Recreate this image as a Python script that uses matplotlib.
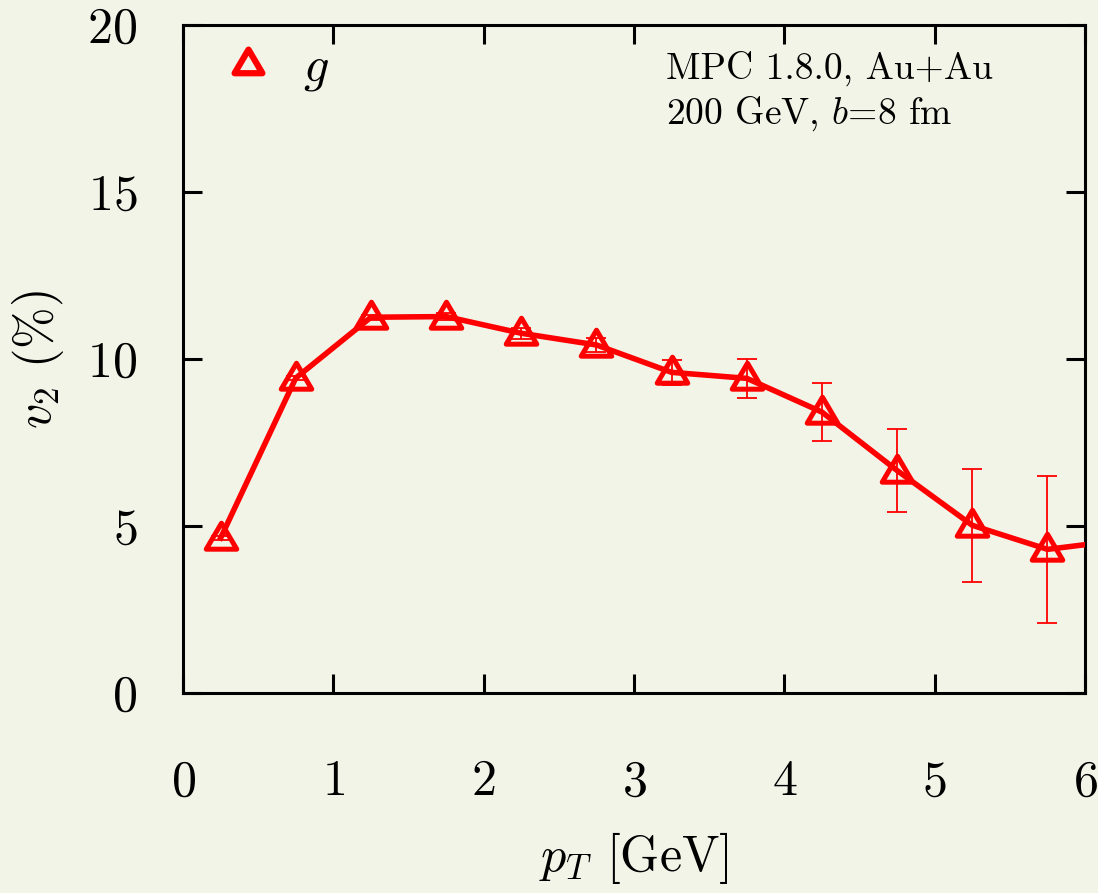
import matplotlib
matplotlib.use("Agg")
import matplotlib.pyplot as plt
from matplotlib.lines import Line2D
from matplotlib.path import Path

plt.rcParams["font.family"] = "cmr10"
plt.rcParams["mathtext.fontset"] = "cm"
plt.rcParams["axes.formatter.use_mathtext"] = True

# gluon elliptic flow vs transverse momentum
pt = [0.25, 0.75, 1.25, 1.75, 2.25, 2.75, 3.25, 3.75, 4.25, 4.75, 5.25, 5.75, 6.25]
v2 = [4.64, 9.43, 11.25, 11.27, 10.77, 10.42, 9.60, 9.42, 8.41, 6.66, 5.02, 4.30, 4.58]
v2_err = [0.05, 0.06, 0.08, 0.10, 0.16, 0.20, 0.38, 0.58, 0.86, 1.23, 1.69, 2.20, 2.4]

xticks = [0, 1, 2, 3, 4, 5, 6]
yticks = [0, 5, 10, 15, 20]

bg = "#f3f4e8"
red = "#ff0000"

# slightly squat open triangle
tri = Path([(-1.0, -0.7), (1.0, -0.7), (0.0, 1.0), (-1.0, -0.7)],
           [Path.MOVETO, Path.LINETO, Path.LINETO, Path.CLOSEPOLY])

fig = plt.figure(figsize=(10.98, 8.93), dpi=100, facecolor=bg)
ax = fig.add_axes([0.1667, 0.224, 0.8215, 0.748])
ax.set_facecolor(bg)

ax.errorbar(pt, v2, yerr=v2_err, fmt="none", ecolor=red, elinewidth=1.3,
            capsize=7.5, capthick=1.3, zorder=2)
ax.plot(pt, v2, color=red, lw=4.0, zorder=3)
ax.plot(pt, v2, ls="none", marker=tri, ms=22, mfc="none", mec=red, mew=3.6, zorder=4)

ax.set_xlim(0, 6)
ax.set_ylim(0, 20)
ax.set_xticks(xticks)
ax.set_yticks(yticks)
ax.tick_params(direction="in", length=14, width=2.2, top=True, right=True,
               labelsize=36)
ax.tick_params(axis="x", pad=48)
ax.tick_params(axis="y", pad=33)
for s in ax.spines.values():
    s.set_linewidth(2.2)

ax.set_xlabel(r"$p_T$ [GeV]", fontsize=36, labelpad=18)
ax.set_ylabel(r"$v_2$ (%)", fontsize=36, labelpad=15)

handle = Line2D([], [], ls="none", marker=tri, ms=20, mfc="none", mec=red, mew=4.5)
ax.legend([handle], [r"$g$"], loc="upper left", frameon=False, fontsize=36,
          handlelength=1.0, handletextpad=0.6, borderaxespad=0.0,
          bbox_to_anchor=(0.022, 1.0))

ax.text(0.607, 0.924, "MPC 1.8.0, Au+Au", transform=fig.transFigure,
        fontsize=27, va="center", ha="left")
ax.text(0.607, 0.873, r"200 GeV, $b$=8 fm", transform=fig.transFigure,
        fontsize=27, va="center", ha="left")

fig.savefig("out.png", dpi=100, facecolor=bg)
